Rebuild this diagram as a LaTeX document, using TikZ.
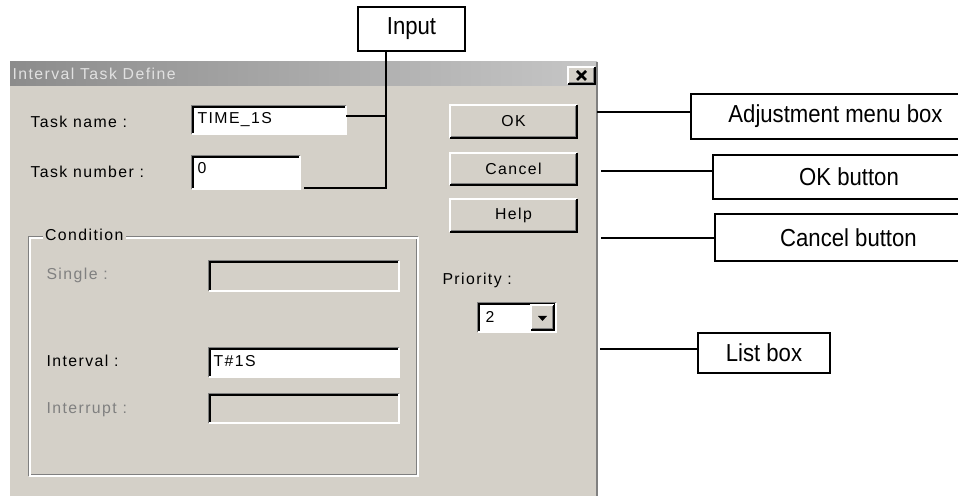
\documentclass[tikz,border=0pt]{standalone}
\usepackage{fontspec}
\setmainfont{Liberation Sans}
\newfontfamily\dlgfont[LetterSpace=9]{Liberation Sans}
\newfontfamily\calloutfont[FakeStretch=0.9]{Liberation Sans}
\usetikzlibrary{positioning, calc}

\definecolor{winface}{RGB}{212,208,200}
\definecolor{winshadow}{RGB}{128,128,128}
\definecolor{titleleft}{RGB}{140,140,140}
\definecolor{titleright}{RGB}{198,198,198}
\definecolor{titletext}{RGB}{225,225,225}

% sunken text field: x1 y1 x2 y2 fill
\newcommand{\sunkfield}[5]{%
  \fill[#5] (#1,#2) rectangle (#3,#4);
  \draw[winshadow] (#1,#4) -- (#1,#2) -- (#3,#2);
  \draw[black] (#1+1,#4-1) -- (#1+1,#2+1) -- (#3-1,#2+1);
  \draw[white] (#1,#4) -- (#3,#4) -- (#3,#2);
}
% raised button: x1 y1 x2 y2
\newcommand{\raisedbtn}[4]{%
  \fill[winface] (#1,#2) rectangle (#3,#4);
  \draw[white] (#1,#4) -- (#1,#2) -- (#3,#2);
  \draw[winshadow] (#1+1,#4-1) -- (#3-1,#4-1) -- (#3-1,#2+1);
  \draw[black] (#1,#4) -- (#3,#4) -- (#3,#2);
}

\begin{document}
\begin{tikzpicture}[x=0.02cm, y=-0.02cm, line width=0.6pt,
	dlgtext/.style={font=\dlgfont\fontsize{9}{10}\selectfont, inner sep=0pt},
	offtext/.style={dlgtext, text=winshadow},
	callout/.style={draw, line width=1.1pt, inner sep=0pt,
		font=\calloutfont\fontsize{14}{16}\selectfont},
	lead/.style={line width=1.1pt}]
	\useasboundingbox (0,0) rectangle (958,496);
	\clip (0,0) rectangle (958,496);

	%Janela do dialogo
	\fill[winface] (10,86) rectangle (597,496);
	\shade[left color=titleleft, right color=titleright] (10,62) rectangle (597,86);
	\draw[winshadow] (597,62) -- (597,496);
	\node[dlgtext, text=titletext, anchor=base west] (title) at (12,80) {Interval Task Define};
	\raisedbtn{568}{67}{595}{84}
	\draw[line width=1.6pt] (577,71) -- (586,80) (586,71) -- (577,80);

	%Campos de entrada
	\node[dlgtext, anchor=base west] (lblName) at (30,128) {Task name :};
	\node[dlgtext, anchor=base west] (lblNumber) at (30,178) {Task number :};
	\sunkfield{192}{106}{346}{134}{white}
	\sunkfield{192}{156}{300}{189}{white}
	\node[dlgtext, anchor=base west] (valName) at (197,124) {TIME\_1S};
	\node[dlgtext, anchor=base west] (valNumber) at (197,174) {0};

	%Grupo Condition
	\draw[winshadow] (29,237) rectangle (417,475);
	\draw[white] (30,238) rectangle (418,476);
	\node[dlgtext, fill=winface, inner xsep=1.5pt, anchor=base west] (grpCond) at (42,241) {Condition};
	\node[offtext, anchor=base west] (lblSingle) at (46,280) {Single :};
	\node[dlgtext, anchor=base west] (lblInterval) at (46,367) {Interval :};
	\node[offtext, anchor=base west] (lblInterrupt) at (46,414) {Interrupt :};
	\sunkfield{209}{261}{399}{291}{winface}
	\sunkfield{209}{348}{399}{377}{white}
	\sunkfield{209}{394}{399}{423}{winface}
	\node[dlgtext, anchor=base west] (valInterval) at (213,367) {T\#1S};

	%Botoes
	\raisedbtn{450}{105}{577}{138}
	\raisedbtn{450}{153}{577}{185}
	\raisedbtn{450}{199}{577}{232}
	\node[dlgtext] (btnOk) at (513.5,121.5) {OK};
	\node[dlgtext] (btnCancel) at (513.5,169) {Cancel};
	\node[dlgtext] (btnHelp) at (513.5,215.5) {Help};

	%Priority
	\node[dlgtext, anchor=base west] (lblPriority) at (442,285) {Priority :};
	\sunkfield{478}{303}{556}{332}{white}
	\node[dlgtext, anchor=base west] (valPriority) at (485,323) {2};
	\raisedbtn{531}{305}{554}{330}
	\fill (538,316) -- (547,316) -- (542.5,321) -- cycle;

	%Caixas de legenda
	\node[callout, minimum width=2.14cm, minimum height=0.88cm] (input) at (411.5,29) {Input};
	\node[callout, minimum width=5.78cm, minimum height=0.9cm] (adjust) at (835.5,116.5) {Adjustment menu box};
	\node[callout, minimum width=5.44cm, minimum height=0.88cm] (okBox) at (849,177) {OK button};
	\node[callout, minimum width=5.34cm, minimum height=0.94cm] (cancelBox) at (848.5,237.5) {Cancel button};
	\node[callout, minimum width=2.64cm, minimum height=0.8cm] (listBox) at (764,353) {List box};

	%Linhas:
	%(Ponto) -- (Legenda)
	\coordinate (inJoin) at (386,116);
	\coordinate (nameTip) at (346,116);
	\coordinate (numTip) at (304,188);
	\coordinate (adjTip) at (597,112);
	\coordinate (okTip) at (601,171);
	\coordinate (cancelTip) at (601,238);
	\coordinate (listTip) at (600,349);
	\draw[lead] (inJoin |- input.south) -- (inJoin) |- (numTip);
	\draw[lead] (nameTip) -- (inJoin);
	\draw[lead] (adjTip) -- (adjTip -| adjust.west);
	\draw[lead] (okTip) -- (okTip -| okBox.west);
	\draw[lead] (cancelTip) -- (cancelTip -| cancelBox.west);
	\draw[lead] (listTip) -- (listTip -| listBox.west);
\end{tikzpicture}
\end{document}
